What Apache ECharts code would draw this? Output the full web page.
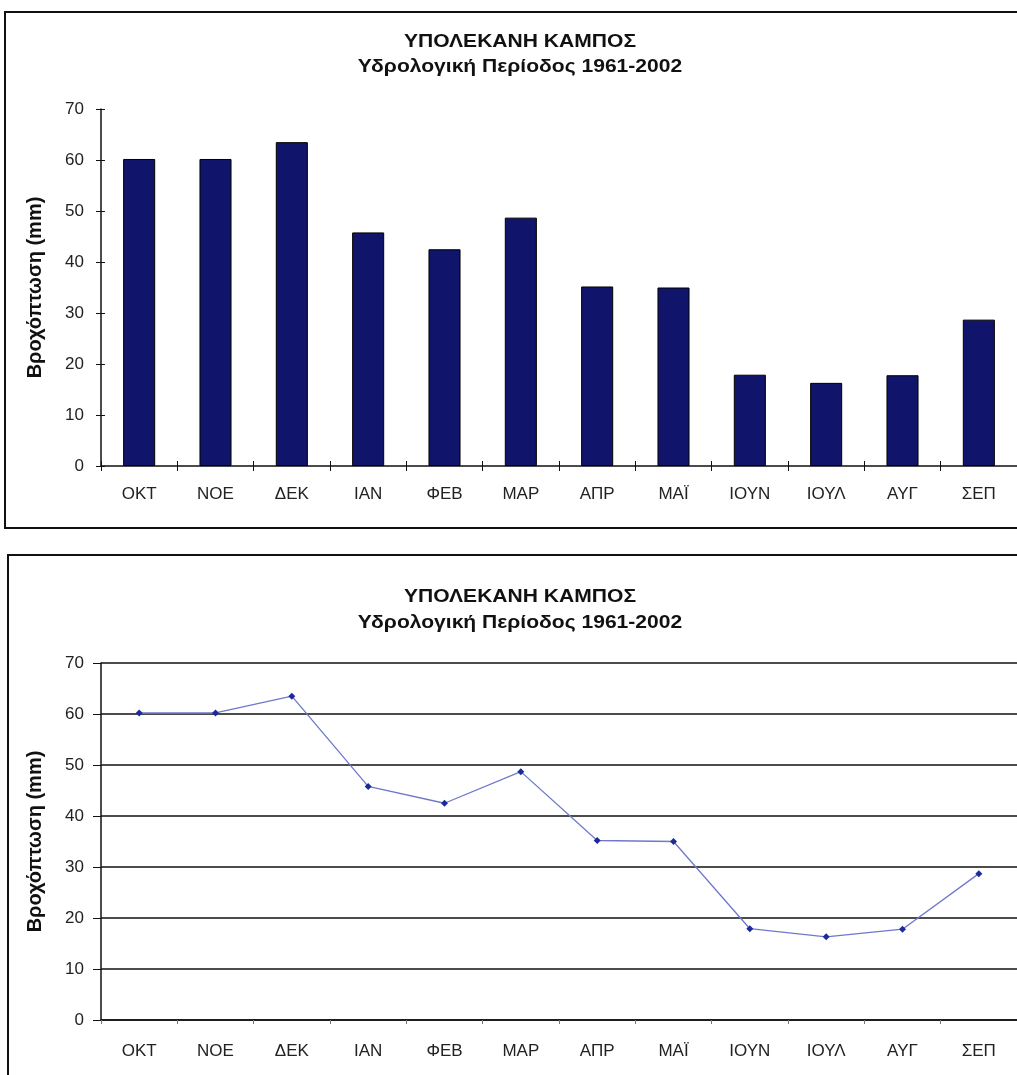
<!DOCTYPE html>
<html>
<head>
<meta charset="utf-8">
<script src="https://cdn.jsdelivr.net/npm/echarts@6/dist/echarts.min.js"></script>
<style>
  html, body { margin: 0; padding: 0; background: #fff; }
  #chart { width: 1017px; height: 1075px; }
</style>
</head>
<body>
<div id="chart"></div>
<script>
var months = ['ΟΚΤ', 'ΝΟΕ', 'ΔΕΚ', 'ΙΑΝ', 'ΦΕΒ', 'ΜΑΡ', 'ΑΠΡ', 'ΜΑΪ', 'ΙΟΥΝ', 'ΙΟΥΛ', 'ΑΥΓ', 'ΣΕΠ'];
var rainfall = [60.2, 60.2, 63.5, 45.8, 42.5, 48.7, 35.2, 35.0, 17.9, 16.3, 17.8, 28.7];
var titleText = 'ΥΠΟΛΕΚΑΝΗ ΚΑΜΠΟΣ';
var subTitleText = 'Υδρολογική Περίοδος 1961-2002';
var yName = 'Βροχόπτωση (mm)';

var font = '"Liberation Sans", Arial, sans-serif';
var labelStyle = { color: '#222', fontSize: 17, fontFamily: font };

function titleLine(text, y) {
    return {
        type: 'text', x: 520, y: y, scaleX: 1.17,
        style: { text: text, textAlign: 'center', textVerticalAlign: 'middle',
                 font: 'bold 18px ' + font, fill: '#111' }
    };
}

function valueAxis(gridIndex, extra) {
    var ax = {
        type: 'value',
        gridIndex: gridIndex,
        position: 'left',
        min: 0,
        max: 70,
        interval: 10,
        name: yName,
        nameLocation: 'middle',
        nameGap: 56,
        nameRotate: 90,
        nameTextStyle: { fontSize: 20, fontWeight: 'bold', color: '#111', fontFamily: font },
        axisLine: { show: true, lineStyle: { color: '#111', width: 1.5 } },
        axisTick: { show: true, length: 5, lineStyle: { color: '#111' } },
        axisLabel: Object.assign({ margin: 17 }, labelStyle),
        splitLine: { show: false }
    };
    return Object.assign(ax, extra || {});
}

function catAxis(gridIndex, extra) {
    var ax = {
        type: 'category',
        gridIndex: gridIndex,
        position: 'bottom',
        data: months,
        boundaryGap: true,
        axisLine: { show: true, lineStyle: { color: '#111', width: 1.5 } },
        axisTick: { show: true, length: 5, lineStyle: { color: '#111' } },
        axisLabel: Object.assign({ margin: 20 }, labelStyle)
    };
    return Object.assign(ax, extra || {});
}

var opts = {
    animation: false,
    backgroundColor: '#fff',
    graphic: [
        { type: 'rect', shape: { x: 5, y: 12, width: 1040, height: 516 },
          style: { fill: 'none', stroke: '#111', lineWidth: 2 } },
        { type: 'rect', shape: { x: 8, y: 555, width: 1040, height: 560 },
          style: { fill: 'none', stroke: '#111', lineWidth: 2 } },
        titleLine(titleText, 42),
        titleLine(subTitleText, 67),
        titleLine(titleText, 597),
        titleLine(subTitleText, 623)
    ],
    grid: [
        { left: 101, top: 109, width: 916, height: 357 },
        { left: 101, top: 663, width: 916, height: 357 }
    ],
    xAxis: [
        catAxis(0),
        catAxis(0, { axisLine: { show: false }, axisLabel: { show: false },
            axisTick: { show: true, inside: true, length: 5, lineStyle: { color: '#111' } } }),
        catAxis(1, { axisTick: { show: true, length: 4, lineStyle: { color: '#777' } },
            axisLabel: Object.assign({ margin: 23 }, labelStyle) })
    ],
    yAxis: [
        valueAxis(0),
        valueAxis(0, { name: '', axisLine: { show: false }, axisLabel: { show: false },
            axisTick: { show: true, inside: true, length: 4, lineStyle: { color: '#111' } } }),
        valueAxis(1, { axisTick: { show: true, length: 8, lineStyle: { color: '#111' } },
            splitLine: { show: true, lineStyle: { color: '#111', width: 1.5 } } })
    ],
    series: [
        {
            type: 'bar',
            xAxisIndex: 0,
            yAxisIndex: 0,
            data: rainfall,
            barWidth: '42%',
            itemStyle: { color: '#10146a', borderColor: '#000', borderWidth: 1 }
        },
        {
            type: 'line',
            xAxisIndex: 2,
            yAxisIndex: 2,
            data: rainfall,
            symbol: 'diamond',
            symbolSize: 7,
            lineStyle: { color: '#6f78cc', width: 1.3 },
            itemStyle: { color: '#1c2a9c' }
        }
    ]
};

echarts.init(document.getElementById('chart')).setOption(opts);
</script>
</body>
</html>
